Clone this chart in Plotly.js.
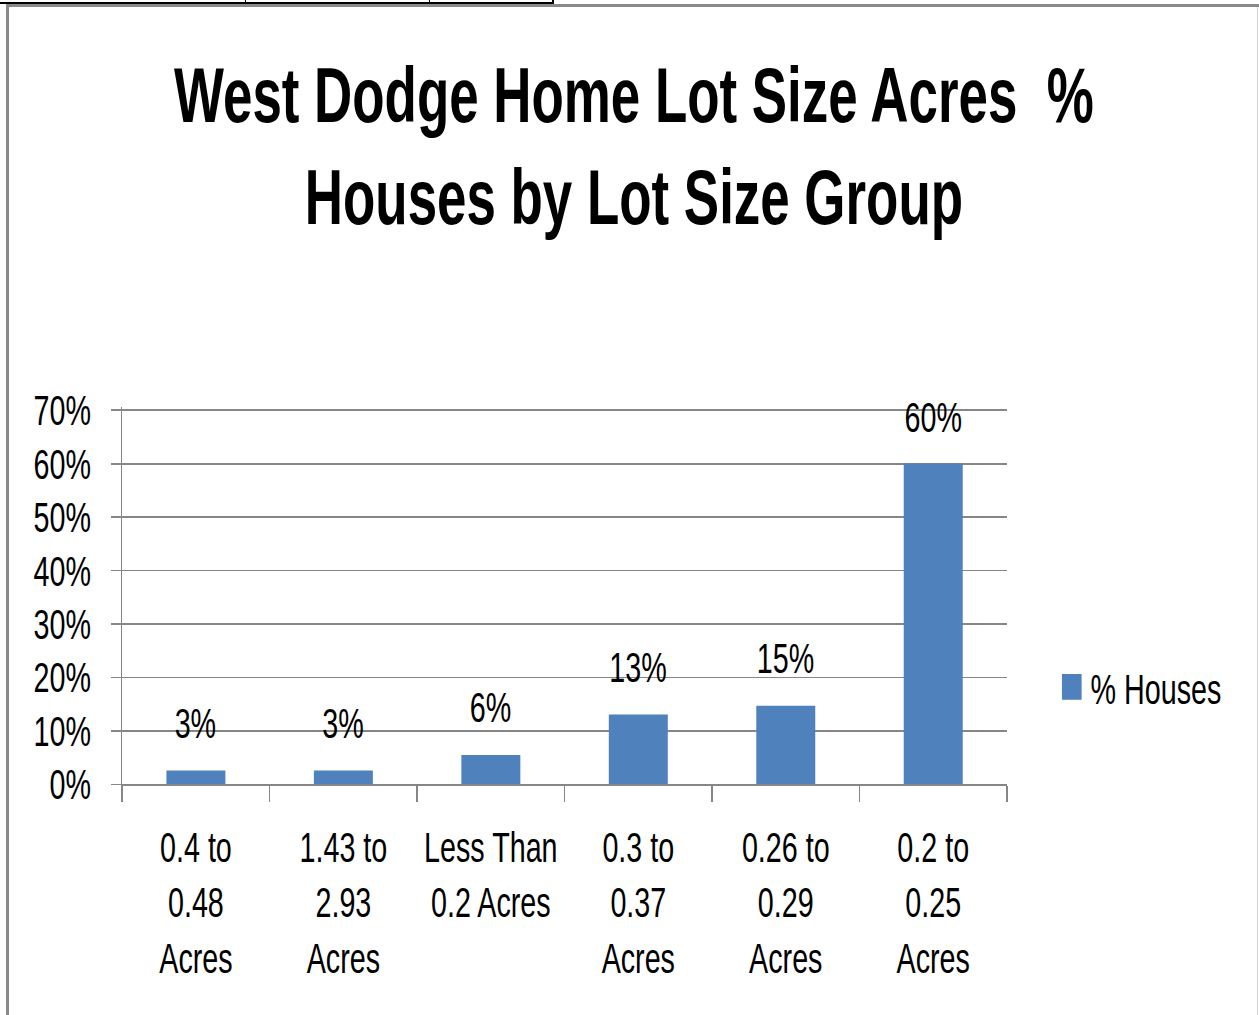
<!DOCTYPE html>
<html>
<head>
<meta charset="utf-8">
<script src="https://cdn.plot.ly/plotly-3.0.1.min.js"></script>
<style>
  html, body { margin: 0; padding: 0; background: #ffffff; }
  #wrap { position: absolute; left: 0; top: 0; width: 1259px; height: 1015px; overflow: hidden; background: #fff; }
  #plot { position: absolute; left: 0; top: 0; width: 1536px; height: 832px; transform: scale(0.82, 1.22); transform-origin: 0 0; }
  .deco { position: absolute; z-index: 5; }
</style>
</head>
<body>
<div id="wrap">
  <div id="plot"></div>
  <div class="deco" style="left:0;top:2px;width:554px;height:2px;background:#000;"></div>
  <div class="deco" style="left:245px;top:0;width:1px;height:3px;background:#000;"></div>
  <div class="deco" style="left:429px;top:0;width:1px;height:3px;background:#000;"></div>
  <div class="deco" style="left:552px;top:0;width:2px;height:3px;background:#000;"></div>
  <div class="deco" style="left:6px;top:4px;width:1253px;height:3px;background:#8a8a8a;"></div>
  <div class="deco" style="left:6px;top:4px;width:3px;height:1011px;background:#8a8a8a;"></div>
  <div class="deco" style="left:1257px;top:7px;width:1px;height:1008px;background:#d4d4d4;"></div>
</div>
<script>
// ---- data ----
const categories = [
  "0.4 to<br>0.48<br>Acres",
  "1.43 to<br>2.93<br>Acres",
  "Less Than<br>0.2 Acres",
  "0.3 to<br>0.37<br>Acres",
  "0.26 to<br>0.29<br>Acres",
  "0.2 to<br>0.25<br>Acres"
];
const pctHouses = [0.026, 0.026, 0.055, 0.131, 0.147, 0.600];
const seriesName = "% Houses";
const yTickVals = [0, 0.1, 0.2, 0.3, 0.4, 0.5, 0.6, 0.7];
const yTickText = ["0%", "10%", "20%", "30%", "40%", "50%", "60%", "70%"];
const titleText = "West Dodge Home Lot Size Acres\u00a0 %<br>Houses by Lot Size Group";

// ---- styling ----
const FONT = "'Liberation Sans', Arial, sans-serif";
const GRID = "#868686";

const trace = {
  type: "bar",
  x: categories,
  y: pctHouses,
  name: seriesName,
  marker: { color: "#4F81BD" },
  showlegend: true,
  hoverinfo: "skip"
};

const annotations = categories.map((c, i) => ({
  x: c,
  y: pctHouses[i],
  xref: "x",
  yref: "y",
  text: Math.round(pctHouses[i] * 100) + "%",
  showarrow: false,
  yanchor: "middle",
  yshift: 39,
  font: { family: FONT, size: 35, color: "#000" }
}));

const layout = {
  width: 1536,
  height: 832,
  margin: { l: 149, r: 308, t: 334, b: 189, pad: 0 },
  paper_bgcolor: "#ffffff",
  plot_bgcolor: "#ffffff",
  font: { family: FONT, size: 35, color: "#000" },
  title: {
    text: titleText,
    font: { family: FONT, size: 64.5, color: "#000", weight: "bold" },
    xref: "container",
    yref: "container",
    x: 0.5033,
    xanchor: "center",
    y: 0.880,
    yanchor: "top"
  },
  bargap: 0.6,
  xaxis: {
    type: "category",
    showline: true,
    linecolor: GRID,
    linewidth: 1.5,
    ticks: "outside",
    tickson: "boundaries",
    ticklen: 13,
    tickwidth: 2,
    tickcolor: GRID,
    showgrid: false,
    tickangle: 0,
    tickfont: { family: FONT, size: 35, color: "#000" },
    ticklabelstandoff: 20,
    fixedrange: true
  },
  yaxis: {
    range: [0, 0.705],
    tickvals: yTickVals,
    ticktext: yTickText,
    showline: true,
    linecolor: GRID,
    linewidth: 2,
    ticks: "outside",
    ticklen: 12,
    tickwidth: 1.5,
    tickcolor: GRID,
    showgrid: true,
    gridcolor: GRID,
    gridwidth: 1.5,
    zeroline: false,
    tickfont: { family: FONT, size: 35, color: "#000" },
    ticklabelstandoff: 17,
    fixedrange: true
  },
  legend: {
    x: 1.0575,
    xanchor: "left",
    y: 0.258,
    yanchor: "middle",
    font: { family: FONT, size: 35, color: "#000" },
    bgcolor: "rgba(0,0,0,0)"
  },
  annotations: annotations
};

Plotly.newPlot("plot", [trace], layout, { displayModeBar: false, staticPlot: true }).then(function (gd) {
  // enlarge the legend swatch (keep Plotly's own placement transform)
  gd.querySelectorAll(".legend .legendpoints path").forEach(function (p) {
    var t = p.getAttribute("transform") || "";
    p.setAttribute("transform", t + " translate(-3,0) scale(2,1.75)");
  });
});
</script>
</body>
</html>
